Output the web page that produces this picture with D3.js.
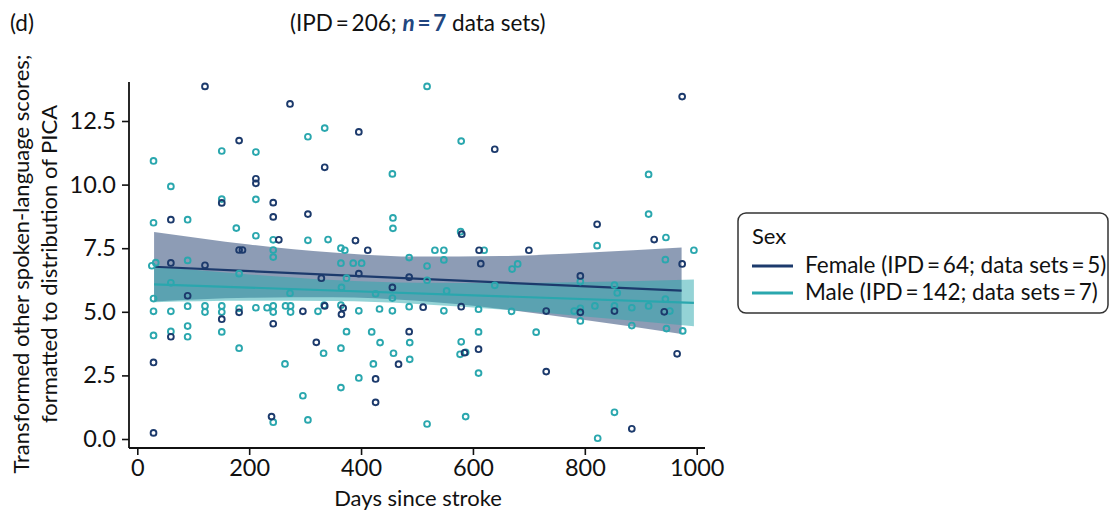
<!DOCTYPE html>
<html><head><meta charset="utf-8">
<script src="https://cdn.jsdelivr.net/npm/d3@7"></script>
<style>body{margin:0;background:#fff}svg{display:block;font-family:Lato,"Open Sans",sans-serif}</style>
</head><body><svg id="c" width="1110" height="513"></svg>
<script>
// ---- data ----
const femaleDays = [121,273,182,335,212,212,151,243,243,305,60,253,182,188,60,121,329,90,182,296,335,151,243,60,320,29,240,29,396,639,580,390,412,611,614,396,486,456,368,365,511,579,486,610,585,467,426,426,974,822,924,700,974,792,731,792,853,942,965,731,884];
const femaleVals = [13.86,13.17,11.73,10.68,10.23,10.05,9.28,9.29,8.73,8.84,8.62,7.83,7.43,7.43,6.92,6.83,6.32,5.63,4.98,5.02,5.23,4.71,4.53,4.02,3.80,3.01,0.88,0.24,12.07,11.39,8.05,7.80,7.42,7.42,6.89,6.50,6.36,5.96,5.15,4.90,5.18,5.20,4.22,3.53,3.39,2.94,2.36,1.44,13.46,8.44,7.84,7.42,6.88,6.41,5.03,4.98,5.03,5.00,3.35,2.65,0.40];
const maleDays = [518,335,305,151,212,29,579,456,60,151,212,457,457,29,90,177,212,243,305,341,578,243,243,90,26,33,182,60,273,29,29,60,90,121,121,151,151,182,212,232,243,243,265,274,274,323,90,60,151,29,90,182,333,264,296,243,305,364,371,532,548,620,486,548,364,386,401,670,680,518,374,518,365,426,456,553,639,334,364,396,433,456,486,548,610,669,374,419,610,434,487,579,364,458,577,587,487,422,610,396,364,587,518,914,914,945,822,995,944,792,853,858,944,781,792,818,853,884,914,952,792,884,946,975,713,853,823];
const maleVals = [13.86,12.22,11.88,11.32,11.28,10.93,11.71,10.42,9.93,9.43,9.42,8.69,8.28,8.50,8.62,8.29,7.99,7.83,7.81,7.84,8.15,7.43,7.15,7.02,6.81,6.93,6.50,6.14,5.73,5.52,5.02,5.02,5.22,5.23,4.99,5.23,4.99,5.14,5.16,5.16,5.23,4.99,5.23,5.23,4.99,5.02,4.44,4.23,4.21,4.07,4.02,3.57,3.37,2.95,1.70,0.66,0.75,7.50,7.42,7.42,7.42,7.42,7.13,7.04,6.91,6.91,6.91,6.68,6.88,6.80,6.32,6.24,5.96,5.71,5.54,5.82,6.04,5.26,5.26,5.04,5.11,5.04,5.20,5.04,5.10,5.02,4.22,4.21,4.21,3.79,3.79,3.82,3.57,3.37,3.33,3.41,3.13,2.95,2.59,2.40,2.02,0.88,0.59,10.40,8.84,7.92,7.60,7.42,7.05,6.19,6.05,5.74,5.50,5.03,5.14,5.23,5.23,5.16,5.23,5.03,4.64,4.46,4.34,4.25,4.20,1.05,0.03];
const femaleFitDays = [30, 973];
const femaleFit = [6.77, 5.83];
const maleFitDays = [30, 995];
const maleFit = [6.08, 5.35];
const femaleBandDays = [30, 200, 350, 500, 650, 800, 973];
const femaleLower = [5.40, 5.55, 5.57, 5.43, 5.11, 4.68, 4.13];
const femaleUpper = [8.14, 7.65, 7.33, 7.17, 7.19, 7.32, 7.53];
const maleBandDays = [30, 200, 350, 500, 650, 800, 995];
const maleLower = [5.38, 5.43, 5.42, 5.31, 5.09, 4.82, 4.43];
const maleUpper = [6.78, 6.47, 6.25, 6.14, 6.13, 6.17, 6.27];
const xTicks = [0, 200, 400, 600, 800, 1000];
const yTicks = [0, 2.5, 5, 7.5, 10, 12.5];
const legendLabels = ["Female (IPD\u2009=\u200964; data sets\u2009=\u20095)", "Male (IPD\u2009=\u2009142; data sets\u2009=\u20097)"];

// ---- drawing ----
const NAVY = "#1c3a6c", TEAL = "#2aa7ae";
const svg = d3.select("#c");
svg.append("rect").attr("width",1110).attr("height",513).attr("fill","#fff");
const x = d3.scaleLinear().domain([0,1000]).range([137.3,696.7]);
const y = d3.scaleLinear().domain([0,12.5]).range([439,121]);

function band(days, lo, hi, col){
  const pts = days.map((d,i)=>({d, lo:lo[i], hi:hi[i]}));
  svg.append("path").datum(pts)
    .attr("d", d3.area().x(p=>x(p.d)).y0(p=>y(p.lo)).y1(p=>y(p.hi)).curve(d3.curveMonotoneX))
    .attr("fill", col).attr("fill-opacity", 0.5);
}
band(femaleBandDays, femaleLower, femaleUpper, NAVY);
band(maleBandDays, maleLower, maleUpper, TEAL);

function fit(days, vals, col){
  svg.append("path").datum(days.map((d,i)=>[d,vals[i]]))
    .attr("d", d3.line().x(p=>x(p[0])).y(p=>y(p[1])))
    .attr("stroke", col).attr("stroke-width", 2.2).attr("fill","none");
}
fit(femaleFitDays, femaleFit, NAVY);
fit(maleFitDays, maleFit, TEAL);

function pts(days, vals, col){
  svg.append("g").selectAll("circle").data(days.map((d,i)=>[d,vals[i]])).join("circle")
    .attr("cx", p=>x(p[0])).attr("cy", p=>y(p[1])).attr("r", 2.9)
    .attr("fill","none").attr("stroke", col).attr("stroke-width", 1.9);
}
pts(maleDays, maleVals, TEAL);
pts(femaleDays, femaleVals, NAVY);

const axCol = "#111";
const xa = svg.append("g").attr("transform","translate(0,448)")
  .call(d3.axisBottom(x).tickValues(xTicks).tickSize(7).tickPadding(4).tickFormat(d3.format("d")));
const ya = svg.append("g").attr("transform","translate(129,0)")
  .call(d3.axisLeft(y).tickValues(yTicks).tickSize(7).tickPadding(6).tickFormat(d3.format(".1f")));
[xa, ya].forEach(a=>{
  a.select(".domain").remove();
  a.selectAll(".tick line").attr("stroke", axCol).attr("stroke-width", 1.6);
  a.selectAll(".tick text").attr("fill","#111").style("font-size","23.5px").style("font-family","Lato");
});
svg.append("line").attr("x1",129).attr("x2",705).attr("y1",448).attr("y2",448).attr("stroke",axCol).attr("stroke-width",1.8);
svg.append("line").attr("x1",129).attr("x2",129).attr("y1",82).attr("y2",448).attr("stroke",axCol).attr("stroke-width",1.8);

svg.append("text").attr("x", 418).attr("y", 506).attr("text-anchor","middle")
  .style("font-size","22px").attr("fill","#111").text("Days since stroke");
const yt = svg.append("text").attr("transform","translate(0,264) rotate(-90)").attr("text-anchor","middle")
  .style("font-size","22px").attr("fill","#111");
yt.append("tspan").attr("x",0).attr("y",29).text("Transformed other spoken-language scores;");
yt.append("tspan").attr("x",0).attr("y",57).text("formatted to distribution of PICA");

svg.append("text").attr("x",10).attr("y",31).style("font-size","22.5px").attr("fill","#111").text("(d)");
const tt = svg.append("text").attr("x",290).attr("y",31).style("font-size","22.5px").attr("fill","#111");
tt.append("tspan").text("(IPD\u2009=\u2009206; ");
tt.append("tspan").attr("fill","#22467f").attr("font-weight","bold").attr("font-style","italic").text("n");
tt.append("tspan").attr("fill","#22467f").attr("font-weight","bold").text("\u2009=\u20097");
tt.append("tspan").text(" data sets)");

const lg = svg.append("g");
lg.append("rect").attr("x",738).attr("y",213).attr("width",370).attr("height",100).attr("rx",8)
  .attr("fill","#fff").attr("stroke","#333").attr("stroke-width",1.5);
lg.append("text").attr("x",752).attr("y",244).style("font-size","22px").attr("fill","#111").text("Sex");
[NAVY, TEAL].forEach((c,i)=>{
  const yy = 266 + i*27;
  lg.append("line").attr("x1",752).attr("x2",793).attr("y1",yy).attr("y2",yy).attr("stroke",c).attr("stroke-width",3);
  lg.append("text").attr("x",805).attr("y",yy+7).style("font-size","22.5px").attr("fill","#111").text(legendLabels[i]);
});
</script></body></html>
